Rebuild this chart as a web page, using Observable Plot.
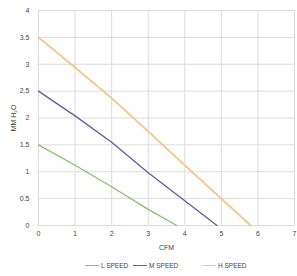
<!DOCTYPE html>
<html>
<head>
<meta charset="utf-8">
<script src="https://cdn.jsdelivr.net/npm/d3@7"></script>
<script src="https://cdn.jsdelivr.net/npm/@observablehq/plot@0.6"></script>
<style>
  html, body { margin: 0; padding: 0; background: #fff; }
  body { width: 297px; height: 276px; overflow: hidden; font-family: "Liberation Sans", Arial, sans-serif; }
  #legend { position: relative; height: 21px; font-size: 6.5px; color: #444; }
  .item { position: absolute; top: 7px; display: flex; align-items: center; }
  .swatch { display: inline-block; width: 14px; height: 0; border-top: 1.5px solid; margin-right: 2px; }
</style>
</head>
<body>
<div id="chart"></div>
<div id="legend"></div>
<script>
const xTicks = [0, 1, 2, 3, 4, 5, 6, 7];
const yTicks = [0, 0.5, 1, 1.5, 2, 2.5, 3, 3.5, 4];

const seriesNames = ["L SPEED", "M SPEED", "H SPEED"];
const seriesColors = ["#86bf70", "#5a5ea6", "#f3c587"];

const lCfm = [0, 1, 2, 3, 3.78];
const lMm  = [1.5, 1.12, 0.72, 0.3, 0];
const mCfm = [0, 1, 2, 3, 4, 4.88];
const mMm  = [2.5, 2.04, 1.55, 0.98, 0.46, 0];
const hCfm = [0, 1, 2, 3, 4, 5, 5.8];
const hMm  = [3.5, 2.94, 2.37, 1.75, 1.12, 0.5, 0];

const cfms = [lCfm, mCfm, hCfm];
const mms = [lMm, mMm, hMm];
const widths = [1.3, 1.3, 1.8];

const rows = [];
seriesNames.forEach((s, i) => {
  cfms[i].forEach((c, j) => rows.push({series: s, cfm: c, mm: mms[i][j]}));
});

const chart = Plot.plot({
  width: 297,
  height: 255,
  marginLeft: 38,
  marginRight: 3,
  marginTop: 10,
  marginBottom: 30,
  style: {fontFamily: "Liberation Sans, Arial, sans-serif", fontSize: "7px", color: "#444", background: "#fff"},
  x: {domain: [0, 7]},
  y: {domain: [0, 4]},
  color: {domain: seriesNames, range: seriesColors},
  marks: [
    Plot.gridX(xTicks, {stroke: "#dcdcdc", strokeOpacity: 1}),
    Plot.gridY(yTicks, {stroke: "#dcdcdc", strokeOpacity: 1}),
    Plot.axisX(xTicks, {tickSize: 0, tickPadding: 6, tickFormat: d => String(d), label: "CFM", labelAnchor: "center", labelArrow: "none", labelOffset: 24, fontSize: 7}),
    Plot.axisY(yTicks, {tickSize: 0, tickPadding: 9, tickFormat: d => String(d), label: "MM H₂O", labelAnchor: "center", labelArrow: "none", labelOffset: 27, fontSize: 7}),
    ...seriesNames.map((s, i) =>
      Plot.line(rows.filter(r => r.series === s), {x: "cfm", y: "mm", stroke: "series", strokeWidth: widths[i]})
    )
  ]
});
document.getElementById("chart").appendChild(chart);

const legend = document.getElementById("legend");
const lefts = [85, 133, 202];
seriesNames.forEach((s, i) => {
  const it = document.createElement("div");
  it.className = "item";
  it.style.left = lefts[i] + "px";
  const sw = document.createElement("span");
  sw.className = "swatch";
  sw.style.borderTopColor = seriesColors[i];
  it.appendChild(sw);
  const t = document.createElement("span");
  t.textContent = s;
  it.appendChild(t);
  legend.appendChild(it);
});
</script>
</body>
</html>
